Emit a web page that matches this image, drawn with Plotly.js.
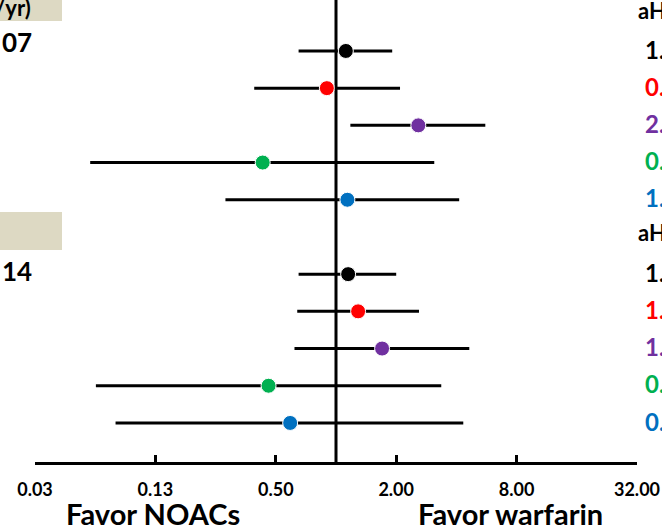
<!DOCTYPE html>
<html>
<head>
<meta charset="utf-8">
<script src="https://cdn.plot.ly/plotly-3.0.1.min.js"></script>
<style>
  html, body { margin: 0; padding: 0; background: #ffffff; overflow: hidden; }
  #chart { width: 662px; height: 528px; }
</style>
</head>
<body>
<div id="chart"></div>
<script>
// ---- Data ----
var groupLabels = ["07", "14"];
var headerText = "(%/yr)";
var aHRHeader = "aHR (95% CI)";
var seriesColors = ["#000000", "#FF0000", "#7030A0", "#00B050", "#0070C0"];

var hr1 = [1.12, 0.90, 2.58, 0.43, 1.14];
var lo1 = [0.65, 0.39, 1.18, 0.059, 0.28];
var hi1 = [1.91, 2.09, 5.58, 3.10, 4.13];

var hr2 = [1.15, 1.29, 1.70, 0.46, 0.59];
var lo2 = [0.65, 0.64, 0.62, 0.063, 0.079];
var hi2 = [2.00, 2.60, 4.64, 3.36, 4.33];

var tickVals = [0.03125, 0.125, 0.5, 2, 8, 32];
var tickText = ["0.03", "0.13", "0.50", "2.00", "8.00", "32.00"];
var favorLeft = "Favor NOACs";
var favorRight = "Favor warfarin";

// ---- Build ----
var FONT = "Lato, 'Open Sans', 'DejaVu Sans', sans-serif";
var W = 662, H = 528, ML = 35, MR = 25, MT = 0, MB = 66;
var PW = W - ML - MR, PH = H - MT - MB;
function px(x) { return (x - ML) / PW; }
function py(y) { return 1 - (y - MT) / PH; }

var hr = hr1.concat(hr2);
var lo = lo1.concat(lo2);
var hi = hi1.concat(hi2);
var rows = [0, 1, 2, 3, 4, 6, 7, 8, 9, 10];
var colors = seriesColors.concat(seriesColors);

var trace = {
  type: "scatter",
  mode: "markers",
  x: hr,
  y: rows,
  marker: { size: 15, color: colors, line: { color: "#ffffff", width: 1 } },
  error_x: {
    type: "data",
    symmetric: false,
    array: hr.map(function (v, i) { return hi[i] - v; }),
    arrayminus: hr.map(function (v, i) { return v - lo[i]; }),
    color: "#000000",
    thickness: 3,
    width: 0
  },
  hoverinfo: "x",
  showlegend: false,
  cliponaxis: false
};

function fmt(v) { return v.toFixed(2); }

var annotations = [];
// right-side aHR values (cut off by the page edge, as in the reference)
rows.forEach(function (r, i) {
  annotations.push({
    xref: "paper", yref: "y", x: px(643), y: r - 0.05, xanchor: "left", yanchor: "middle",
    text: fmt(hr[i]) + " (" + fmt(lo[i]) + "-" + fmt(hi[i]) + ")",
    showarrow: false,
    font: { family: FONT, size: 24, color: colors[i], weight: 700 }
  });
});
// headers
[10, 233].forEach(function (y) {
  annotations.push({
    xref: "paper", yref: "paper", x: px(636), y: py(y), xanchor: "left", yanchor: "middle",
    text: aHRHeader, showarrow: false,
    font: { family: FONT, size: 22, color: "#000000", weight: 700 }
  });
});
// left-side cut-off labels
annotations.push({
  xref: "paper", yref: "paper", x: px(33), y: py(8), xanchor: "right", yanchor: "middle",
  text: headerText, showarrow: false,
  font: { family: FONT, size: 22, color: "#000000", weight: 700 }
});
annotations.push({
  xref: "paper", yref: "paper", x: px(0), y: py(42), xanchor: "left", yanchor: "middle",
  text: groupLabels[0], showarrow: false,
  font: { family: FONT, size: 26, color: "#000000", weight: 700 }
});
annotations.push({
  xref: "paper", yref: "paper", x: px(0), y: py(271), xanchor: "left", yanchor: "middle",
  text: groupLabels[1], showarrow: false,
  font: { family: FONT, size: 26, color: "#000000", weight: 700 }
});
// favor labels
annotations.push({
  xref: "paper", yref: "paper", x: px(153), y: py(513), xanchor: "center", yanchor: "middle",
  text: favorLeft, showarrow: false,
  font: { family: FONT, size: 29, color: "#000000", weight: 700 }
});
annotations.push({
  xref: "paper", yref: "paper", x: px(510), y: py(513), xanchor: "center", yanchor: "middle",
  text: favorRight, showarrow: false,
  font: { family: FONT, size: 29, color: "#000000", weight: 700 }
});

var shapes = [
  { type: "rect", xref: "paper", yref: "paper", x0: px(0), x1: px(62), y0: py(-2), y1: py(21),
    fillcolor: "#DDD9C3", line: { width: 0 }, layer: "below" },
  { type: "rect", xref: "paper", yref: "paper", x0: px(0), x1: px(62), y0: py(212), y1: py(250),
    fillcolor: "#DDD9C3", line: { width: 0 }, layer: "below" },
  { type: "line", xref: "x", yref: "paper", x0: 1, x1: 1, y0: 0, y1: 1.01,
    line: { color: "#000000", width: 3 }, layer: "below" }
];

var layout = {
  width: W, height: H,
  margin: { l: ML, r: MR, t: MT, b: MB, pad: 0 },
  paper_bgcolor: "#ffffff", plot_bgcolor: "#ffffff",
  showlegend: false,
  xaxis: {
    type: "log",
    range: [Math.log10(0.03125), Math.log10(32)],
    tickvals: tickVals, ticktext: tickText,
    ticks: "inside", ticklen: 7, tickwidth: 3, tickcolor: "#000000",
    showline: true, linewidth: 3, linecolor: "#000000",
    showgrid: false, zeroline: false,
    ticklabelstandoff: 9,
    tickfont: { family: FONT, size: 18, color: "#000000", weight: 700 }
  },
  yaxis: {
    range: [11.05, -1.37],
    visible: false, showgrid: false, zeroline: false
  },
  annotations: annotations,
  shapes: shapes
};

Plotly.newPlot("chart", [trace], layout, { displayModeBar: false, staticPlot: true });
</script>
</body>
</html>
